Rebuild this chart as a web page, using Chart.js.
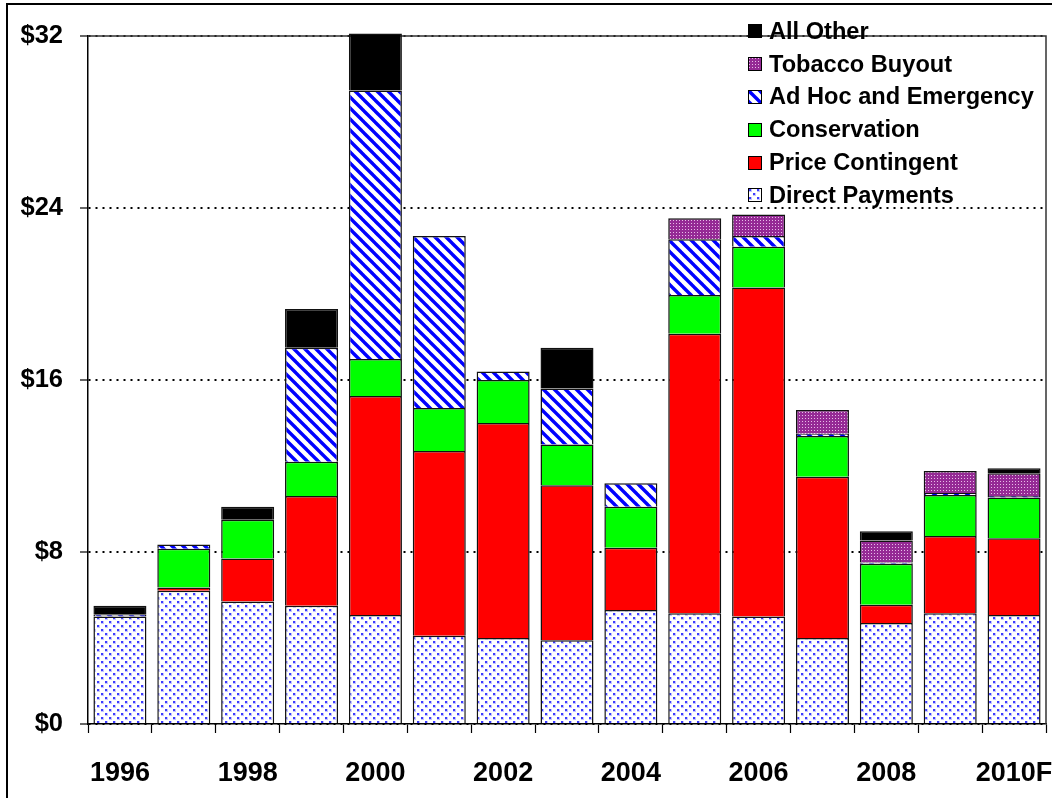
<!DOCTYPE html>
<html>
<head>
<meta charset="utf-8">
<script src="https://cdn.jsdelivr.net/npm/chart.js@4.4.1/dist/chart.umd.min.js"></script>
<style>
  html, body { margin: 0; padding: 0; background: #fff; overflow: hidden; }
  #wrap { position: relative; width: 1052px; height: 798px; }
  #frame { position: absolute; left: 6px; top: 3px; width: 1100px; height: 900px; border: 2px solid #000; box-sizing: border-box; pointer-events: none; }
  #chart { position: absolute; left: 0; top: 0; }
  #legend { position: absolute; left: 748px; top: 15px; font-family: "Liberation Sans", Arial, sans-serif; font-weight: bold; font-size: 23.6px; color: #000; }
  .row { display: flex; align-items: center; height: 32.8px; }
  .row canvas { width: 14px; height: 14px; margin-right: 7px; }
</style>
</head>
<body>
<div id="wrap">
  <canvas id="chart" width="1052" height="798"></canvas>
  <div id="legend"></div>
  <div id="frame"></div>
</div>
<script>
// Government payments by program, billion dollars
const categories = ['1996','1997','1998','1999','2000','2001','2002','2003','2004','2005','2006','2007','2008','2009','2010F'];
const directPayments  = [5.0, 6.2, 5.7, 5.5, 5.07, 4.1, 4.0, 3.9, 5.3, 5.15, 5.0, 4.0, 4.7, 5.15, 5.07];
const priceContingent = [0, 0.15, 2.0, 5.1, 10.19, 8.6, 10.0, 7.2, 2.9, 13.0, 15.3, 7.5, 0.85, 3.6, 3.57];
const conservation    = [0, 1.8, 1.8, 1.6, 1.72, 2.0, 2.0, 1.9, 1.9, 1.8, 1.9, 1.9, 1.9, 1.9, 1.9];
const adHocEmergency  = [0.1, 0.2, 0, 5.3, 12.48, 8.0, 0.4, 2.6, 1.1, 2.6, 0.5, 0.1, 0.06, 0.1, 0.06];
const tobaccoBuyout   = [0, 0, 0, 0, 0, 0, 0, 0, 0, 0.97, 1.0, 1.1, 1.03, 1.02, 1.06];
const allOther        = [0.4, 0, 0.6, 1.8, 2.66, 0, 0, 1.9, 0, 0, 0, 0, 0.43, 0, 0.23];
const yTicks = [0, 8, 16, 24, 32];

const FONT = '"Liberation Sans", Arial, sans-serif';

// --- fill patterns -------------------------------------------------------
function tile(w, h, paint) {
  const c = document.createElement('canvas');
  c.width = w; c.height = h;
  paint(c.getContext('2d'), w, h);
  return c;
}
const dotTile = tile(8, 8, (g) => {
  g.fillStyle = '#fff'; g.fillRect(0, 0, 8, 8);
  g.fillStyle = '#c4c4ff';
  g.fillRect(0, 0, 4, 4); g.fillRect(4, 4, 4, 4);
  g.fillStyle = '#fff';
  g.fillRect(0, 0, 4, 1); g.fillRect(0, 0, 1, 4); g.fillRect(4, 4, 4, 1); g.fillRect(4, 4, 1, 4);
  g.fillStyle = '#3c3cff';
  g.fillRect(1, 1, 2, 2); g.fillRect(5, 5, 2, 2);
});
const stripeTile = tile(11, 11, (g) => {
  g.fillStyle = '#fff'; g.fillRect(0, 0, 11, 11);
  g.strokeStyle = '#0000ff'; g.lineWidth = 3.4;
  for (const c of [-11, 0, 11]) {
    g.beginPath(); g.moveTo(-1, c - 1); g.lineTo(12, c + 12); g.stroke();
  }
});
const purpleTile = tile(3, 3, (g) => {
  g.fillStyle = '#952a95'; g.fillRect(0, 0, 3, 3);
  g.fillStyle = '#e8bce8'; g.fillRect(1, 1, 1, 1);
});
const ctx = document.getElementById('chart').getContext('2d');
const pat = (t) => ctx.createPattern(t, 'repeat');

const series = [
  { label: 'Direct Payments',      data: directPayments,  fill: pat(dotTile),    swatch: dotTile },
  { label: 'Price Contingent',     data: priceContingent, fill: '#ff0000' },
  { label: 'Conservation',         data: conservation,    fill: '#00ff00' },
  { label: 'Ad Hoc and Emergency', data: adHocEmergency,  fill: pat(stripeTile), swatch: stripeTile },
  { label: 'Tobacco Buyout',       data: tobaccoBuyout,   fill: pat(purpleTile), swatch: purpleTile },
  { label: 'All Other',            data: allOther,        fill: '#000000' }
];

// --- legend (top of the stack listed first) ------------------------------
const legendEl = document.getElementById('legend');
series.slice().reverse().forEach((s) => {
  const row = document.createElement('div'); row.className = 'row';
  const sw = document.createElement('canvas'); sw.width = 14; sw.height = 14;
  const g = sw.getContext('2d');
  g.fillStyle = s.swatch ? g.createPattern(s.swatch, 'repeat') : s.fill;
  g.fillRect(0, 0, 14, 14);
  g.strokeStyle = '#000'; g.lineWidth = 1; g.strokeRect(0.5, 0.5, 13, 13);
  const tx = document.createElement('span'); tx.textContent = s.label;
  row.appendChild(sw); row.appendChild(tx);
  legendEl.appendChild(row);
});

// --- plot frame on top and right edges -----------------------------------
const plotFrame = {
  id: 'plotFrame',
  beforeDatasetsDraw(chart) {
    const { ctx: c, chartArea: a } = chart;
    c.save();
    c.strokeStyle = '#333'; c.lineWidth = 1.5;
    c.beginPath();
    c.moveTo(a.left, a.top); c.lineTo(a.right, a.top); c.lineTo(a.right, a.bottom);
    c.stroke();
    c.restore();
  }
};

new Chart(ctx, {
  type: 'bar',
  data: {
    labels: categories,
    datasets: series.map((s) => ({
      label: s.label,
      data: s.data,
      backgroundColor: s.fill,
      borderColor: '#111',
      borderWidth: (c) => (c.raw ? 1.5 : 0),
      categoryPercentage: 1,
      barPercentage: 0.83,
      clip: false
    }))
  },
  options: {
    responsive: false,
    animation: false,
    layout: { padding: { top: 36, right: 6, left: 0, bottom: 0 } },
    plugins: { legend: { display: false }, tooltip: { enabled: false } },
    scales: {
      x: {
        stacked: true,
        grid: { drawOnChartArea: false, drawTicks: true, tickLength: 9, tickColor: '#000', tickWidth: 1.2, offset: true },
        border: { color: '#000', width: 1.5 },
        ticks: {
          autoSkip: false, maxRotation: 0, minRotation: 0, padding: 24, color: '#000',
          font: { family: FONT, size: 27, weight: 'bold' },
          callback: (v, i) => (i % 2 === 0 ? categories[i] : '')
        },
        afterFit(s) { s.height = 74; s.paddingLeft = 0; s.paddingRight = 0; }
      },
      y: {
        stacked: true,
        min: yTicks[0],
        max: yTicks[yTicks.length - 1],
        afterBuildTicks(s) { s.ticks = yTicks.map((v) => ({ value: v })); },
        grid: { color: '#000', lineWidth: 2, tickColor: '#000', tickLength: 8, tickWidth: 1.2, tickBorderDash: [] },
        border: { color: '#000', width: 1.5, dash: [2, 5] },
        ticks: {
          padding: 17, color: '#000',
          font: { family: FONT, size: 25.5, weight: 'bold' },
          callback: (v) => '$' + v
        },
        afterFit(s) { s.width = 88; s.paddingTop = 0; s.paddingBottom = 0; }
      }
    }
  },
  plugins: [plotFrame]
});
</script>
</body>
</html>
